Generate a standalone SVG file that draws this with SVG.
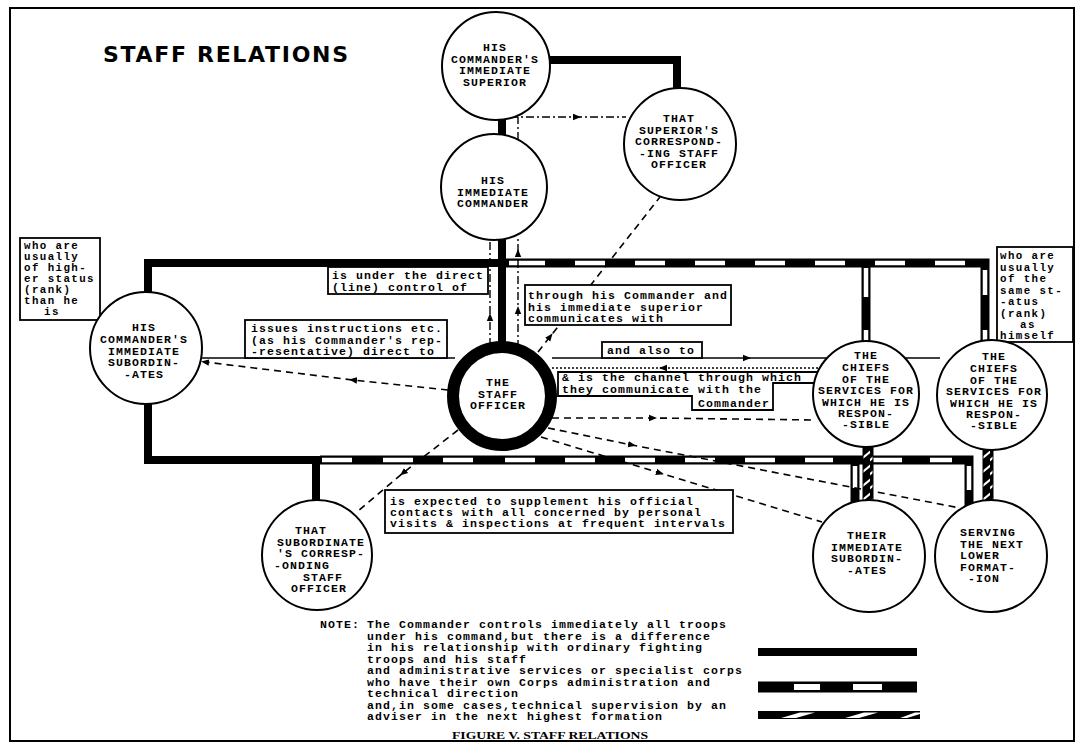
<svg xmlns="http://www.w3.org/2000/svg" width="1082" height="748" viewBox="0 0 1082 748">
<style>
.nd circle{fill:#fff;stroke:#000;stroke-width:2}
.ct{font-family:"Liberation Mono","DejaVu Sans Mono",monospace;font-weight:bold;font-size:11.5px;letter-spacing:1.1px;text-anchor:middle;fill:#000}
.bt{font-family:"Liberation Mono","DejaVu Sans Mono",monospace;font-weight:bold;font-size:11.5px;letter-spacing:1.1px;fill:#000}
.sm{font-size:10.8px;letter-spacing:1.4px}
.box{fill:#fff;stroke:#000;stroke-width:1.8}
.thick{stroke:#000;stroke-width:8;fill:none}
.bar{stroke:#000;stroke-width:9;fill:none}
.wh{stroke:#fff;stroke-width:4.5;fill:none}
.thin{stroke:#000;stroke-width:1.5;fill:none}
.dash{stroke:#000;stroke-width:1.6;fill:none;stroke-dasharray:7 5}
.dd{stroke:#000;stroke-width:1.4;fill:none;stroke-dasharray:8 3 2 3}
.dot{stroke:#000;stroke-width:1.4;fill:none;stroke-dasharray:2 2}
</style>
<defs>
<marker id="arr" viewBox="0 0 10 10" refX="5" refY="5" markerWidth="8" markerHeight="8" markerUnits="userSpaceOnUse" orient="auto"><path d="M0,1 L10,5 L0,9 z" fill="#000"/></marker>
<pattern id="hatch" patternUnits="userSpaceOnUse" width="10" height="14"><rect width="10" height="14" fill="#000"/><path d="M-1,13 L11,3" stroke="#fff" stroke-width="2.2"/></pattern>
</defs>
<rect x="10" y="8" width="1064" height="733" fill="#fff" stroke="#000" stroke-width="2"/>
<text x="103" y="62" font-family="DejaVu Sans, Liberation Sans, sans-serif" font-weight="bold" font-size="22" textLength="245" lengthAdjust="spacing">STAFF RELATIONS</text>

<g id="connectors">
  <path class="thick" d="M520,60 H677 V92"/>
  <path class="thick" d="M502,110 V142"/>
  <path class="thick" d="M502,235 V350"/>
  <path class="thick" d="M148,300 V263 H505"/>
  <path class="thick" d="M148,395 V460 H322"/>
  <path class="thick" d="M316,460 V505"/>
  <path class="bar" d="M500,263 H985 V345"/>
  <path class="bar" d="M866,263 V345"/>
  <path class="wh" d="M509,263H545M575,263H605M635,263H665M695,263H725M755,263H785M815,263H845M875,263H905M935,263H965"/>
  <path class="wh" d="M866,268V297M866,330V345M985,270V295M985,330V345"/>
  <path class="bar" d="M320,460 H969 V508"/>
  <path class="bar" d="M855,460 V505"/>
  <path class="wh" d="M322,460H352M383,460H413M443,460H473M505,460H535M565,460H595M625,460H655M685,460H715M745,460H775M805,460H833M873,460H902M930,460H952"/>
  <path class="wh" d="M855,466V488M969,466V490"/>
  <rect x="863" y="444" width="10" height="60" fill="url(#hatch)" stroke="#000" stroke-width="1"/>
  <rect x="983" y="446" width="10" height="58" fill="url(#hatch)" stroke="#000" stroke-width="1"/>
  <path class="thin" d="M202,358 H455"/>
  <polyline class="thin" points="552,358 747,358 940,358" marker-mid="url(#arr)"/>
  <polyline class="dot" points="818,368 663,368 552,368" marker-mid="url(#arr)"/>
  <polyline class="dash" points="552,418 653,418 815,420" marker-mid="url(#arr)"/>
  <polyline class="dash" points="538,352 550.2,336.5 660,197" marker-mid="url(#arr)"/>
  <polyline class="dash" points="448,390 353,380 205,362" marker-mid="url(#arr)" marker-end="url(#arr)"/>
  <polyline class="dash" points="458,430 403,473 357,512" marker-mid="url(#arr)"/>
  <polyline class="dash" points="548,428 632,445 960,508" marker-mid="url(#arr)"/>
  <polyline class="dash" points="541,437 660,473 822,522" marker-mid="url(#arr)"/>
  <polyline class="dd" points="518,348 518,310 518,253 518,238" marker-mid="url(#arr)"/>
  <path class="dd" d="M518,140 V117"/>
  <polyline class="dd" points="510,117 577,117 626,117" marker-mid="url(#arr)"/>
  <polyline class="dd" points="490,346 490,317 490,238" marker-mid="url(#arr)"/>
</g>

<g id="label-higher">
  <rect class="box" x="20" y="238" width="80" height="82"/>
  <text class="bt sm"><tspan x="24" y="248.5">who are</tspan><tspan x="24" y="259.5">usually</tspan><tspan x="24" y="270.5">of high-</tspan><tspan x="24" y="281.5">er status</tspan><tspan x="24" y="292.5">(rank)</tspan><tspan x="24" y="303.5">than he</tspan><tspan x="44" y="314.5">is</tspan></text>
</g>
<g id="label-same">
  <rect class="box" x="997" y="247" width="76" height="95"/>
  <text class="bt sm"><tspan x="1000" y="259">who are</tspan><tspan x="1000" y="270.5">usually</tspan><tspan x="1000" y="282">of the</tspan><tspan x="1000" y="293.5">same st-</tspan><tspan x="1000" y="305">-atus</tspan><tspan x="1000" y="316.5">(rank)</tspan><tspan x="1020" y="328">as</tspan><tspan x="1000" y="339">himself</tspan></text>
</g>
<g id="label-under">
  <rect class="box" x="328" y="267" width="160" height="27"/>
  <text class="bt"><tspan x="332" y="279">is under the direct</tspan><tspan x="332" y="291">(line) control of</tspan></text>
</g>
<g id="label-issues">
  <rect class="box" x="245" y="320" width="202" height="38"/>
  <text class="bt"><tspan x="251" y="332">issues instructions etc.</tspan><tspan x="251" y="344">(as his Commander's rep-</tspan><tspan x="251" y="355">-resentative) direct to</tspan></text>
</g>
<g id="label-through">
  <rect class="box" x="525" y="285" width="206" height="40"/>
  <text class="bt"><tspan x="528" y="299">through his Commander and</tspan><tspan x="528" y="311">his immediate superior</tspan><tspan x="528" y="322">communicates with</tspan></text>
</g>
<g id="label-also">
  <rect class="box" x="602" y="342" width="100" height="16"/>
  <text class="bt" x="607" y="354">and also to</text>
</g>
<g id="label-channel">
  <path class="box" d="M558,372 H830 V383 H773 V410 H692 V396 H558 Z"/>
  <text class="bt"><tspan x="562" y="381">&amp; is the channel through which</tspan><tspan x="562" y="392.5">they communicate with the</tspan><tspan x="698" y="407">Commander</tspan></text>
</g>
<g id="label-visits">
  <rect class="box" x="385" y="490" width="348" height="43"/>
  <text class="bt"><tspan x="390" y="505">is expected to supplement his official</tspan><tspan x="390" y="516">contacts with all concerned by personal</tspan><tspan x="390" y="527">visits &amp; inspections at frequent intervals</tspan></text>
</g>

<g id="node-superior" class="nd">
  <circle cx="496" cy="66" r="54"/>
  <text class="ct"><tspan x="495" y="51">HIS</tspan><tspan x="495" y="62.5">COMMANDER'S</tspan><tspan x="495" y="74">IMMEDIATE</tspan><tspan x="495" y="85.5">SUPERIOR</tspan></text>
</g>
<g id="node-commander" class="nd">
  <circle cx="494" cy="187" r="53"/>
  <text class="ct"><tspan x="493" y="184">HIS</tspan><tspan x="493" y="195.5">IMMEDIATE</tspan><tspan x="493" y="207">COMMANDER</tspan></text>
</g>
<g id="node-superior-staff" class="nd">
  <circle cx="680" cy="144" r="56"/>
  <text class="ct"><tspan x="679" y="122">THAT</tspan><tspan x="679" y="133.5">SUPERIOR'S</tspan><tspan x="679" y="145">CORRESPOND-</tspan><tspan x="679" y="156.5">-ING STAFF</tspan><tspan x="679" y="168">OFFICER</tspan></text>
</g>
<g id="node-subordinates" class="nd">
  <circle cx="146" cy="348" r="56"/>
  <text class="ct"><tspan x="144" y="331">HIS</tspan><tspan x="144" y="343">COMMANDER'S</tspan><tspan x="144" y="354.5">IMMEDIATE</tspan><tspan x="144" y="366">SUBORDIN-</tspan><tspan x="144" y="377.5">-ATES</tspan></text>
</g>
<g id="node-staff-officer" class="nd">
  <circle cx="502" cy="396" r="49" style="stroke-width:12"/>
  <text class="ct"><tspan x="498" y="386">THE</tspan><tspan x="498" y="397.5">STAFF</tspan><tspan x="498" y="409">OFFICER</tspan></text>
</g>
<g id="node-chiefs-1" class="nd">
  <circle cx="866" cy="394" r="53"/>
  <text class="ct"><tspan x="866" y="359">THE</tspan><tspan x="866" y="371">CHIEFS</tspan><tspan x="866" y="382.5">OF THE</tspan><tspan x="866" y="394">SERVICES FOR</tspan><tspan x="866" y="405.5">WHICH HE IS</tspan><tspan x="866" y="417">RESPON-</tspan><tspan x="866" y="428">-SIBLE</tspan></text>
</g>
<g id="node-chiefs-2" class="nd">
  <circle cx="992" cy="395" r="55"/>
  <text class="ct"><tspan x="994" y="360">THE</tspan><tspan x="994" y="372">CHIEFS</tspan><tspan x="994" y="383.5">OF THE</tspan><tspan x="994" y="395">SERVICES FOR</tspan><tspan x="994" y="406.5">WHICH HE IS</tspan><tspan x="994" y="418">RESPON-</tspan><tspan x="994" y="429">-SIBLE</tspan></text>
</g>
<g id="node-subordinate-staff" class="nd">
  <circle cx="317" cy="555" r="55"/>
  <text class="ct"><tspan x="311" y="534">THAT</tspan><tspan x="321" y="545.5">SUBORDINATE</tspan><tspan x="321" y="557">'S CORRESP-</tspan><tspan x="302" y="569">-ONDING</tspan><tspan x="323" y="580.5">STAFF</tspan><tspan x="319" y="592">OFFICER</tspan></text>
</g>
<g id="node-their-subordinates" class="nd">
  <circle cx="869" cy="556" r="56"/>
  <text class="ct"><tspan x="867" y="539">THEIR</tspan><tspan x="867" y="550.5">IMMEDIATE</tspan><tspan x="867" y="562">SUBORDIN-</tspan><tspan x="867" y="573.5">-ATES</tspan></text>
</g>
<g id="node-next-lower" class="nd">
  <circle cx="991" cy="556" r="56"/>
  <text class="bt"><tspan x="960" y="536">SERVING</tspan><tspan x="960" y="547.5">THE NEXT</tspan><tspan x="960" y="559">LOWER</tspan><tspan x="960" y="570.5">FORMAT-</tspan><tspan x="968" y="582">-ION</tspan></text>
</g>

<g id="note">
  <text class="bt" x="320" y="628">NOTE:</text>
  <text class="bt"><tspan x="367" y="628">The Commander controls immediately all troops</tspan><tspan x="367" y="639.5">under his command,but there is a difference</tspan><tspan x="367" y="651">in his relationship with ordinary fighting</tspan><tspan x="367" y="662.5">troops and his staff</tspan><tspan x="367" y="674">and administrative services or specialist corps</tspan><tspan x="367" y="685.5">who have their own Corps administration and</tspan><tspan x="367" y="697">technical direction</tspan><tspan x="367" y="708.5">and,in some cases,technical supervision by an</tspan><tspan x="367" y="720">adviser in the next highest formation</tspan></text>
</g>
<g id="legend">
  <path d="M758,652 H917" stroke="#000" stroke-width="8"/>
  <path d="M758,687 H917" stroke="#000" stroke-width="11"/>
  <path d="M794,687 H820 M853,687 H882" stroke="#fff" stroke-width="6"/>
  <rect x="758" y="711" width="162" height="8" fill="#000"/>
  <polygon points="781,718 800,712.5 815,712.5 796,718" fill="#fff"/>
  <polygon points="845,718 864,712.5 878,712.5 859,718" fill="#fff"/>
  <polygon points="900,718 915,712.5 920,712.5 920,714 907,718" fill="#fff"/>
</g>
<text x="550" y="739" text-anchor="middle" font-family="Liberation Serif, serif" font-weight="bold" font-size="11" textLength="196" lengthAdjust="spacingAndGlyphs">FIGURE V. STAFF RELATIONS</text>
</svg>
